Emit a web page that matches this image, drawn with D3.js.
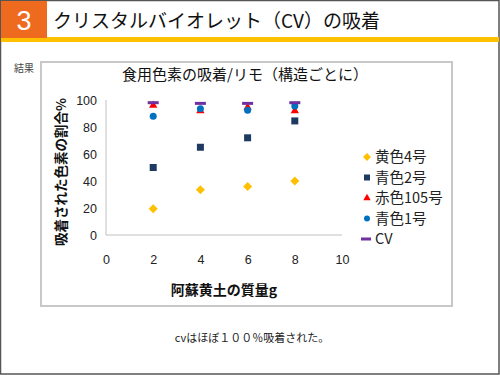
<!DOCTYPE html>
<html><head><meta charset="utf-8">
<script src="https://cdn.jsdelivr.net/npm/d3@7"></script>
<style>body{margin:0;background:#fff}svg{display:block}</style>
</head><body>
<script>
const xValues = [2, 4, 6, 8];
const seriesNames = ["黄色4号", "青色2号", "赤色105号", "青色1号", "CV"];
const yellow4 = [19.5, 33.5, 36, 40];
const blue2 = [50, 65, 72, 84.5];
const red105 = [96, 92, 94.5, 92];
const blue1 = [88, 93.5, 92.5, 95.5];
const cv = [98, 97.5, 97.5, 98];
const xTicks = [0, 2, 4, 6, 8, 10];
const yTicks = [0, 20, 40, 60, 80, 100];

const W = 500, H = 375;
const font = "'Noto Sans CJK JP', 'Noto Sans', sans-serif";
const svg = d3.select("body").append("svg").attr("width", W).attr("height", H);

// Slide frame
svg.append("rect").attr("x", 0.5).attr("y", 0.5).attr("width", W - 1.5).attr("height", H - 1.5)
  .attr("fill", "#fff").attr("stroke", "#555").attr("stroke-width", 1.5);
// header
svg.append("rect").attr("x", 1).attr("y", 37).attr("width", W - 2).attr("height", 5).attr("fill", "#FFC000");
svg.append("rect").attr("x", 1).attr("y", 1).attr("width", 46).attr("height", 37).attr("fill", "#EE6A1E");
svg.append("text").attr("x", 24).attr("y", 30).attr("text-anchor", "middle")
  .attr("font-family", "Arial, 'Liberation Sans', sans-serif").attr("font-size", 27).attr("fill", "#fff").text("3");
svg.append("text").attr("x", 53).attr("y", 28).attr("font-family", font).attr("font-size", 19)
  .attr("fill", "#111").text("クリスタルバイオレット（CV）の吸着");

svg.append("text").attr("x", 14).attr("y", 72).attr("font-family", font).attr("font-size", 10)
  .attr("fill", "#444").text("結果");

// chart frame
svg.append("rect").attr("x", 41).attr("y", 62).attr("width", 411).attr("height", 244)
  .attr("fill", "#fff").attr("stroke", "#c8c8c8").attr("stroke-width", 2);

svg.append("text").attr("x", 245).attr("y", 80).attr("text-anchor", "middle")
  .attr("font-family", font).attr("font-size", 15).attr("fill", "#111")
  .text("食用色素の吸着/リモ（構造ごとに）");

const x = d3.scaleLinear().domain([0, 10]).range([106, 342]);
const y = d3.scaleLinear().domain([0, 100]).range([235, 100]);

// axes lines
svg.append("line").attr("x1", x(0)).attr("x2", x(10)).attr("y1", y(0)).attr("y2", y(0)).attr("stroke", "#c0c0c0").attr("stroke-width", 1);
svg.append("line").attr("x1", x(0)).attr("x2", x(0)).attr("y1", y(0)).attr("y2", y(100)).attr("stroke", "#c0c0c0").attr("stroke-width", 1);

const yAxis = d3.axisLeft(y).tickValues(yTicks).tickSize(0).tickPadding(9);
const gy = svg.append("g").attr("transform", `translate(${x(0)},0)`).call(yAxis);
gy.select(".domain").remove();
gy.selectAll("text").attr("font-family", "Arial, 'Liberation Sans', sans-serif").attr("font-size", 12.5).attr("fill", "#222");

const xAxis = d3.axisBottom(x).tickValues(xTicks).tickSize(0).tickPadding(20);
const gx = svg.append("g").attr("transform", `translate(0,${y(0)})`).call(xAxis);
gx.select(".domain").remove();
gx.selectAll("text").attr("font-family", "Arial, 'Liberation Sans', sans-serif").attr("font-size", 12.5).attr("fill", "#222");

svg.append("text").attr("x", 224).attr("y", 295).attr("text-anchor", "middle")
  .attr("font-family", font).attr("font-size", 14).attr("font-weight", "bold").attr("fill", "#111")
  .text("阿蘇黄土の質量g");
svg.append("text").attr("transform", `translate(66,${172}) rotate(-90)`).attr("text-anchor", "middle")
  .attr("font-family", font).attr("font-size", 13.5).attr("font-weight", "bold").attr("fill", "#111")
  .text("吸着された色素の割合%");

const series = [
  {name: seriesNames[0], vals: yellow4, color: "#FFC000", type: "diamond"},
  {name: seriesNames[1], vals: blue2, color: "#1F3A60", type: "square"},
  {name: seriesNames[2], vals: red105, color: "#FF0000", type: "triangle"},
  {name: seriesNames[3], vals: blue1, color: "#0070C0", type: "circle"},
  {name: seriesNames[4], vals: cv, color: "#7030A0", type: "dash"}
];

function diamondPath(cx, cy, r) { return `M${cx},${cy - r}L${cx + r},${cy}L${cx},${cy + r}L${cx - r},${cy}Z`; }
function drawMarker(g, type, color, cx, cy, legend) {
  if (type === "diamond") {
    g.append("path").attr("d", diamondPath(cx, cy, legend ? 4 : 4.5)).attr("fill", color);
  } else if (type === "square") {
    const h = legend ? 3 : 3.5;
    g.append("rect").attr("x", cx - h).attr("y", cy - h).attr("width", 2 * h).attr("height", 2 * h).attr("fill", color);
  } else if (type === "triangle") {
    g.append("path").attr("d", d3.symbol(d3.symbolTriangle, legend ? 24 : 30)()).attr("transform", `translate(${cx},${cy})`).attr("fill", color);
  } else if (type === "circle") {
    g.append("circle").attr("cx", cx).attr("cy", cy).attr("r", legend ? 3 : 3.5).attr("fill", color);
  } else if (type === "dash") {
    const w = legend ? 10 : 11;
    g.append("rect").attr("x", cx - w / 2).attr("y", cy - 1.5).attr("width", w).attr("height", 3).attr("fill", color);
  }
}

const plot = svg.append("g");
series.forEach(s => {
  s.vals.forEach((v, i) => drawMarker(plot, s.type, s.color, x(xValues[i]), y(v), false));
});

// legend
const leg = svg.append("g");
series.forEach((s, i) => {
  const ly = 157 + i * 20.5;
  drawMarker(leg, s.type, s.color, s.type === "dash" ? 366 : 367, ly, true);
  leg.append("text").attr("x", 375).attr("y", ly + 5).attr("font-family", font).attr("font-size", 14.5).attr("fill", "#222").text(s.name);
});

svg.append("text").attr("x", 252).attr("y", 342).attr("text-anchor", "middle")
  .attr("font-family", font).attr("font-size", 11).attr("fill", "#222")
  .text("cvはほぼ１００％吸着された。");
</script>
</body></html>
